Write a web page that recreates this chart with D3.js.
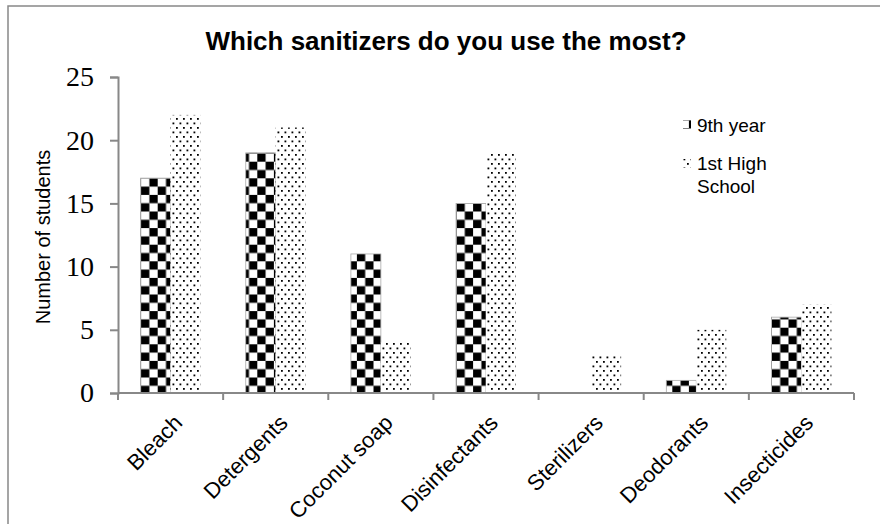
<!DOCTYPE html>
<html>
<head>
<meta charset="utf-8">
<script src="https://cdn.jsdelivr.net/npm/d3@7"></script>
<style>
  body { margin: 0; background: #fff; }
  text { font-family: "Liberation Sans", Arial, sans-serif; }
</style>
</head>
<body>
<div id="chart"></div>
<script>
const categories = ["Bleach", "Detergents", "Coconut soap", "Disinfectants", "Sterilizers", "Deodorants", "Insecticides"];
const seriesNames = ["9th year", "1st High School"];
const ninthYear = [17, 19, 11, 15, 0, 1, 6];
const firstHigh = [22, 21, 4, 19, 3, 5, 7];
const yTicks = [0, 5, 10, 15, 20, 25];

const W = 880, H = 524;
const plotLeft = 118, plotRight = 854, plotTop = 77, plotBottom = 393;

const svg = d3.select("#chart").append("svg")
  .attr("width", W).attr("height", H);

// patterns
const defs = svg.append("defs");
const chk = defs.append("pattern").attr("id", "checker")
  .attr("patternUnits", "userSpaceOnUse")
  .attr("width", 16.6).attr("height", 16.6)
  .attr("x", 8.3).attr("y", 178.3);
chk.append("rect").attr("width", 16.6).attr("height", 16.6).attr("fill", "#fff");
chk.append("rect").attr("x", 8.3).attr("y", 0).attr("width", 8.3).attr("height", 8.3).attr("fill", "#000");
chk.append("rect").attr("x", 0).attr("y", 8.3).attr("width", 8.3).attr("height", 8.3).attr("fill", "#000");

const dots = defs.append("pattern").attr("id", "dots")
  .attr("patternUnits", "userSpaceOnUse")
  .attr("width", 7).attr("height", 9);
dots.append("rect").attr("width", 7).attr("height", 9).attr("fill", "#fff");
dots.append("rect").attr("x", 1).attr("y", 1).attr("width", 1.8).attr("height", 1.8).attr("fill", "#000");
dots.append("rect").attr("x", 4.5).attr("y", 5.5).attr("width", 1.8).attr("height", 1.8).attr("fill", "#000");

const fills = ["url(#checker)", "url(#dots)"];

// outer frame (runs off the page on right and bottom)
svg.append("rect")
  .attr("x", 8).attr("y", 6).attr("width", 900).attr("height", 560)
  .attr("fill", "none").attr("stroke", "#888").attr("stroke-width", 1.5);

const x = d3.scaleBand().domain(categories).range([plotLeft, plotRight])
  .paddingInner(0.43).paddingOuter(0.215);
const xs = d3.scaleBand().domain(seriesNames).range([0, x.bandwidth()]);
const y = d3.scaleLinear().domain([0, 25]).range([plotBottom, plotTop]);

// bars
const data = [ninthYear, firstHigh];
data.forEach((vals, si) => {
  svg.append("g").selectAll("rect")
    .data(vals)
    .join("rect")
    .attr("x", (d, i) => x(categories[i]) + xs(seriesNames[si]))
    .attr("y", d => y(d))
    .attr("width", xs.bandwidth())
    .attr("height", d => plotBottom - y(d))
    .attr("fill", fills[si])
    .attr("stroke", si === 0 ? "#aaa" : "none")
    .attr("stroke-width", si === 0 ? 0.8 : 0)
    .style("display", d => d > 0 ? null : "none");
});

// y axis
const yAxis = svg.append("g").attr("transform", `translate(${plotLeft},0)`)
  .call(d3.axisLeft(y).tickValues(yTicks).tickSize(8).tickPadding(16));
yAxis.select(".domain").attr("stroke", "#888").attr("stroke-width", 2);
yAxis.selectAll(".tick line").attr("stroke", "#888").attr("stroke-width", 2);
yAxis.selectAll(".tick text")
  .style("font-family", "'Liberation Serif', 'DejaVu Serif', serif")
  .style("font-size", "28px").attr("fill", "#000");

// x axis line + ticks at category boundaries
svg.append("line").attr("x1", plotLeft).attr("x2", plotRight).attr("y1", plotBottom).attr("y2", plotBottom)
  .attr("stroke", "#888").attr("stroke-width", 2);
const bounds = categories.map(c => x(c) - x.step() * 0.215).concat([plotRight]);
svg.append("g").selectAll("line").data(bounds).join("line")
  .attr("x1", d => d).attr("x2", d => d)
  .attr("y1", plotBottom).attr("y2", plotBottom + 7)
  .attr("stroke", "#888").attr("stroke-width", 2);

// x labels
svg.append("g").selectAll("text").data(categories).join("text")
  .attr("transform", d => `translate(${x(d) + x.bandwidth() / 2 + 2},${plotBottom + 20}) rotate(-45)`)
  .attr("text-anchor", "end")
  .attr("dy", "0.72em")
  .style("font-size", "22px")
  .text(d => d);

// y label
svg.append("text")
  .attr("transform", `translate(50,${(plotTop + plotBottom) / 2 + 2}) rotate(-90)`)
  .attr("text-anchor", "middle")
  .style("font-size", "20px")
  .text("Number of students");

// title
svg.append("text")
  .attr("x", 446).attr("y", 50)
  .attr("text-anchor", "middle")
  .style("font-size", "26px").style("font-weight", "bold")
  .text("Which sanitizers do you use the most?");

// legend
const leg = svg.append("g");
leg.append("rect").attr("x", 683).attr("y", 120).attr("width", 8).attr("height", 9)
  .attr("fill", "url(#checker)");
leg.append("text").attr("x", 697).attr("y", 132).style("font-size", "19px").text(seriesNames[0]);
leg.append("rect").attr("x", 682).attr("y", 159).attr("width", 9).attr("height", 9)
  .attr("fill", "url(#dots)");
const lt = leg.append("text").attr("x", 697).attr("y", 170).style("font-size", "19px");
lt.append("tspan").attr("x", 697).text("1st High");
lt.append("tspan").attr("x", 697).attr("dy", 23).text("School");
</script>
</body>
</html>
